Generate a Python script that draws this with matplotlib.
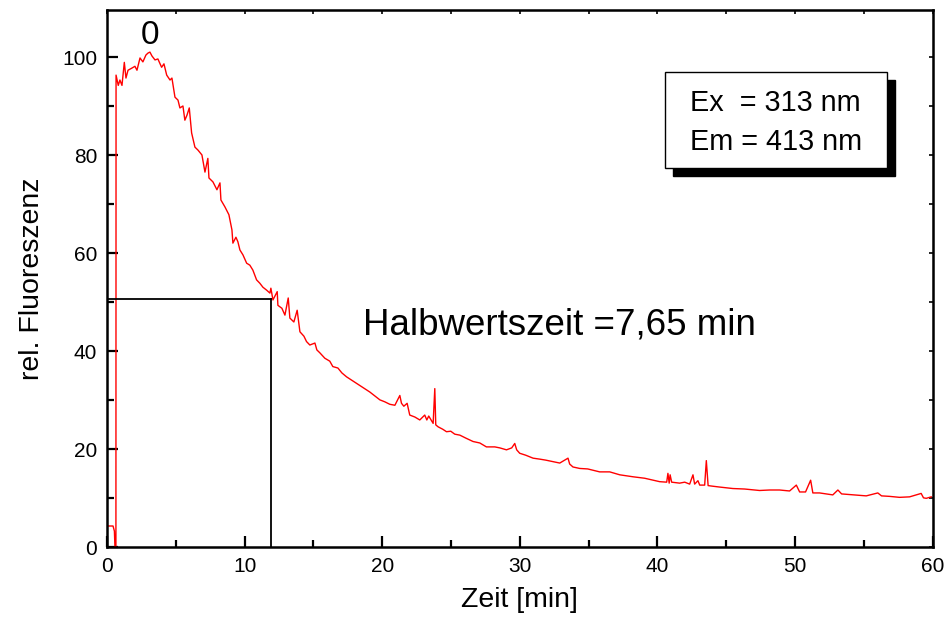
import matplotlib
matplotlib.use('Agg')
import matplotlib.pyplot as plt
from matplotlib.patches import Rectangle
from matplotlib.ticker import MultipleLocator

plt.rcParams['font.family'] = ['Liberation Sans', 'DejaVu Sans']

zeit = [
    0.00, 0.44, 0.54, 0.58, 0.65, 0.66, 0.82, 0.94, 1.09, 1.26, 1.38, 1.53, 1.79,
    2.03, 2.18, 2.40, 2.61, 2.83, 2.98, 3.12, 3.27, 3.49, 3.70, 3.97, 4.14, 4.34,
    4.58, 4.72, 4.94, 5.16, 5.30, 5.52, 5.66, 5.81, 5.98, 6.15, 6.39, 6.61, 6.90,
    7.12, 7.33, 7.41, 7.70, 7.99, 8.21, 8.28, 8.57, 8.86, 9.08, 9.15, 9.37, 9.51,
    9.66, 9.88, 10.15, 10.38, 10.60, 10.87, 11.11, 11.33, 11.60, 11.84, 11.91,
    12.06, 12.37, 12.42, 12.71, 12.93, 13.17, 13.29, 13.58, 13.82, 14.02, 14.31,
    14.50, 14.74, 15.11, 15.25, 15.47, 15.83, 16.19, 16.41, 16.78, 17.07, 17.41,
    17.79, 18.23, 18.66, 19.10, 19.46, 19.83, 20.19, 20.55, 20.92, 21.28, 21.40,
    21.57, 21.81, 22.00, 22.37, 22.73, 23.09, 23.24, 23.38, 23.70, 23.82, 23.89,
    24.06, 24.40, 24.67, 24.98, 25.27, 25.64, 26.07, 26.60, 27.09, 27.57, 28.18,
    28.54, 29.03, 29.41, 29.63, 29.77, 29.99, 30.43, 30.96, 31.45, 31.88, 32.41,
    32.90, 33.50, 33.62, 33.86, 34.35, 34.93, 35.80, 36.53, 37.26, 38.22, 39.07,
    40.16, 40.67, 40.76, 40.85, 40.92, 41.03, 41.61, 41.98, 42.34, 42.58, 42.70,
    42.94, 43.07, 43.43, 43.55, 43.68, 43.94, 44.52, 45.48, 46.33, 47.42, 48.15,
    48.87, 49.60, 50.09, 50.33, 50.76, 51.13, 51.29, 51.78, 52.74, 53.11, 53.38,
    54.32, 55.17, 56.01, 56.28, 56.86, 57.59, 58.32, 59.16, 59.33, 59.53, 59.89,
]
fluoreszenz = [
    4.35, 4.35, 3.3, 0.0, 0.0, 96.4, 94.3, 95.4, 94.3, 99.0, 95.8, 97.4, 97.8,
    98.2, 97.4, 99.9, 99.1, 100.5, 100.9, 101.1, 100.3, 99.5, 99.7, 98.0, 98.7, 96.4,
    95.4, 95.8, 91.9, 91.3, 89.7, 90.1, 87.2, 88.2, 89.7, 84.6, 81.7, 81.1, 80.1,
    76.6, 79.4, 75.4, 74.6, 73.0, 74.4, 70.9, 69.5, 67.9, 64.8, 62.1, 63.3, 62.4,
    60.7, 59.7, 58.0, 57.6, 56.6, 54.6, 53.9, 53.1, 52.5, 51.9, 52.9,
    50.5, 52.2, 49.4, 48.8, 47.4, 50.9, 46.8, 46.0, 48.4, 44.0, 43.1,
    42.0, 41.3, 41.7, 40.3, 39.7, 38.6, 38.0, 36.9, 36.6, 35.6, 34.8,
    34.1, 33.3, 32.5, 31.7, 30.9, 30.1, 29.7, 29.2, 29.0, 31.0, 29.4,
    28.8, 29.4, 27.0, 26.6, 26.0, 27.0, 26.0, 26.8, 25.3, 32.4, 25.0,
    24.6, 24.1, 23.6, 23.7, 23.1, 22.9, 22.3, 21.6, 21.3, 20.5, 20.5,
    20.3, 19.9, 20.3, 21.2, 19.9, 19.2, 18.8, 18.2, 18.0, 17.8, 17.5,
    17.2, 18.2, 17.0, 16.4, 16.1, 16.0, 15.4, 15.4, 14.8, 14.4, 14.1,
    13.4, 13.3, 15.1, 13.1, 14.8, 13.3, 13.1, 13.3, 12.9, 14.8, 12.9,
    13.6, 12.7, 12.7, 17.7, 12.6, 12.5, 12.3, 12.0, 11.9, 11.6, 11.7,
    11.7, 11.5, 12.7, 11.3, 11.3, 13.7, 11.1, 11.1, 10.7, 11.7, 10.9,
    10.7, 10.5, 11.1, 10.5, 10.4, 10.2, 10.3, 11.0, 10.1, 10.0, 10.3,
]

# Halbwertszeit-Markierung
t_halb = 11.89
f_halb = 50.7

fig = plt.figure(figsize=(9.45, 6.27), dpi=100)
ax = fig.add_axes([0.1132, 0.1271, 0.8738, 0.857])

ax.plot(zeit, fluoreszenz, color='#ff0000', lw=1.0)
ax.plot([0, t_halb], [f_halb, f_halb], color='black', lw=1.3)
ax.plot([t_halb, t_halb], [0, f_halb], color='black', lw=1.3)

ax.set_xlim(0, 60)
ax.set_ylim(0, 109.7)
ax.xaxis.set_major_locator(MultipleLocator(10))
ax.xaxis.set_minor_locator(MultipleLocator(5))
ax.yaxis.set_major_locator(MultipleLocator(20))
ax.yaxis.set_minor_locator(MultipleLocator(10))
ax.tick_params(which='major', direction='in', length=8, width=1.6,
               labelsize=15, pad=7)
ax.tick_params(which='minor', direction='in', length=5, width=1.6)
for s in ax.spines.values():
    s.set_linewidth(1.8)

# kurze Ticks oben und rechts
top = ax.secondary_xaxis('top')
top.xaxis.set_major_locator(MultipleLocator(5))
top.tick_params(direction='in', length=3, width=1.2, labeltop=False)
right = ax.secondary_yaxis('right')
right.yaxis.set_major_locator(MultipleLocator(10))
right.tick_params(direction='in', length=3, width=1.2, labelright=False)

ax.set_xlabel('Zeit [min]', fontsize=20.5, labelpad=8)
ax.set_ylabel('rel. Fluoreszenz', fontsize=20.5, labelpad=12)

ax.text(3.12, 104.5, '0', fontsize=24, ha='center', va='center')
ax.text(18.6, 45.4, 'Halbwertszeit =7,65 min', fontsize=26.5,
        ha='left', va='center')

# Kasten mit Anregungs-/Emissionswellenlänge
bx, by, bw, bh = 0.7037, 0.7316, 0.2346, 0.154
dx, dy = 0.0085, 0.0128
fig.patches.append(Rectangle((bx + dx, by - dy), bw, bh, transform=fig.transFigure,
                             facecolor='black', edgecolor='black', zorder=5))
fig.patches.append(Rectangle((bx, by), bw, bh, transform=fig.transFigure,
                             facecolor='white', edgecolor='black', lw=1.0, zorder=6))
fig.text(0.730, 0.8357, 'Ex  = 313 nm', fontsize=20.8, va='center', zorder=7)
fig.text(0.730, 0.774, 'Em = 413 nm', fontsize=20.8, va='center', zorder=7)

fig.savefig('out.png', dpi=100)
